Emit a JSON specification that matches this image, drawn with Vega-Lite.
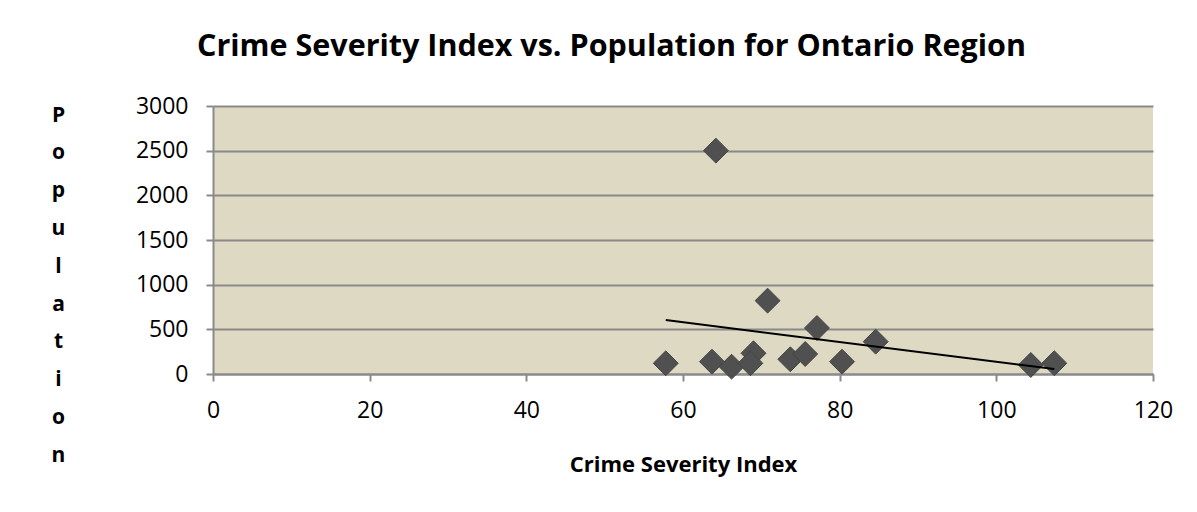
{
  "$schema": "https://vega.github.io/schema/vega-lite/v6.json",
  "autosize": "none",
  "width": 940,
  "height": 268,
  "padding": {"left": 213, "top": 106, "right": 44, "bottom": 138},
  "background": "white",
  "title": {
    "text": "Crime Severity Index vs. Population for Ontario Region",
    "font": "Open Sans",
    "fontSize": 30.5,
    "fontWeight": "bold",
    "color": "black",
    "anchor": "start",
    "frame": "group",
    "dx": -16,
    "offset": 33
  },
  "data": {
    "values": [
      {"csi": 57.8, "population": 120},
      {"csi": 64.2, "population": 2500},
      {"csi": 63.7, "population": 138},
      {"csi": 66.2, "population": 82},
      {"csi": 69.0, "population": 232},
      {"csi": 68.6, "population": 120},
      {"csi": 70.8, "population": 821},
      {"csi": 73.7, "population": 165},
      {"csi": 75.6, "population": 224},
      {"csi": 77.1, "population": 515},
      {"csi": 80.3, "population": 138},
      {"csi": 84.6, "population": 362},
      {"csi": 104.4, "population": 101},
      {"csi": 107.4, "population": 120}
    ]
  },
  "layer": [
    {
      "mark": {"type": "point", "shape": "diamond", "filled": true, "size": 620, "color": "#505050", "opacity": 1, "stroke": "#444444", "strokeWidth": 1},
      "encoding": {
        "x": {"field": "csi", "type": "quantitative"},
        "y": {"field": "population", "type": "quantitative"}
      }
    },
    {
      "transform": [{"regression": "population", "on": "csi"}],
      "mark": {"type": "line", "color": "black", "strokeWidth": 2},
      "encoding": {
        "x": {"field": "csi", "type": "quantitative"},
        "y": {"field": "population", "type": "quantitative"}
      }
    }
  ],
  "encoding": {
    "x": {
      "field": "csi",
      "type": "quantitative",
      "scale": {"domain": [0, 120], "nice": false, "zero": true},
      "axis": {
        "title": "Crime Severity Index",
        "values": [0, 20, 40, 60, 80, 100, 120],
        "format": "d",
        "grid": false,
        "tickSize": 7,
        "labelPadding": 18,
        "titleY": 80,
        "titleBaseline": "top",
        "titleFontSize": 22
      }
    },
    "y": {
      "field": "population",
      "type": "quantitative",
      "scale": {"domain": [0, 3000], "nice": false},
      "axis": {
        "title": ["P", "o", "p", "u", "l", "a", "t", "i", "o", "n"],
        "values": [0, 500, 1000, 1500, 2000, 2500, 3000],
        "format": "d",
        "grid": true,
        "tickSize": 7,
        "labelPadding": 18,
        "titleAngle": 0,
        "titleX": -155,
        "titleY": -2,
        "titleAlign": "center",
        "titleBaseline": "top",
        "titleLineHeight": 37.8,
        "titleFontSize": 21
      }
    }
  },
  "config": {
    "view": {"fill": "#DDD9C3", "stroke": null},
    "axis": {
      "labelFont": "Open Sans",
      "labelFontSize": 23,
      "labelColor": "black",
      "titleFont": "Open Sans",
      "titleFontSize": 20,
      "titleFontWeight": "bold",
      "titleColor": "black",
      "domainColor": "#8a8a8a",
      "domainWidth": 2,
      "tickColor": "#8a8a8a",
      "tickWidth": 2,
      "gridColor": "#8a8a8a",
      "gridWidth": 2,
      "gridOpacity": 1,
      "labelFlush": false,
      "labelOverlap": false
    }
  }
}
